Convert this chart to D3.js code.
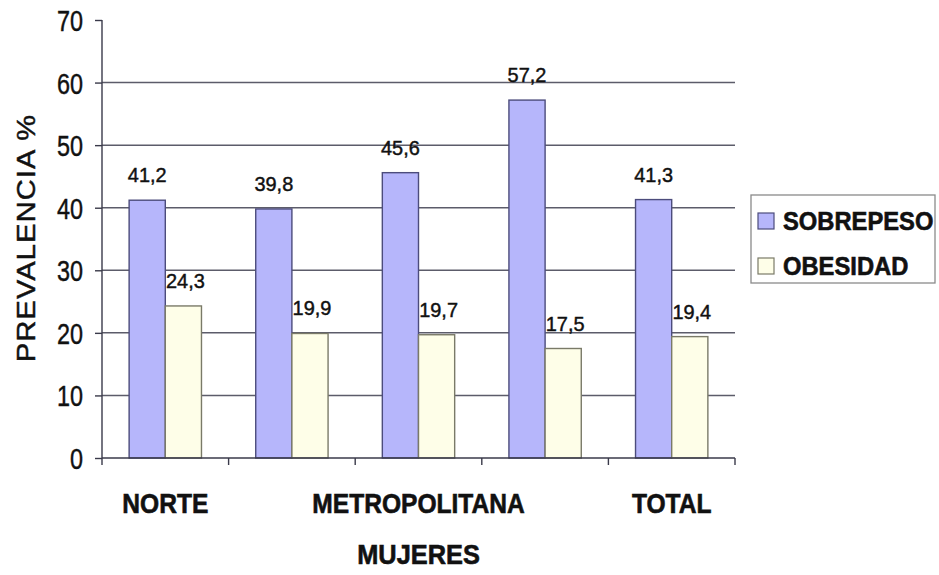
<!DOCTYPE html>
<html>
<head>
<meta charset="utf-8">
<script src="https://cdn.jsdelivr.net/npm/d3@7/dist/d3.min.js"></script>
<style>
  html, body { margin: 0; padding: 0; background: #fff; }
  svg { display: block; font-family: "Liberation Sans", Arial, sans-serif; }
  text { fill: #111; stroke: #111; stroke-width: 0.45; }
  text.bold { stroke-width: 0.6; }
</style>
</head>
<body>
<svg id="chart" width="939" height="575"></svg>
<script>
// Prevalencia de sobrepeso y obesidad en mujeres, por zona
const categoryLabels = ["NORTE", "", "METROPOLITANA", "", "TOTAL"];
const seriesNames = ["SOBREPESO", "OBESIDAD"];
const sobrepeso = [41.2, 39.8, 45.6, 57.2, 41.3];
const obesidad = [24.3, 19.9, 19.7, 17.5, 19.4];
const yTicks = [0, 10, 20, 30, 40, 50, 60, 70];

const values = [sobrepeso, obesidad];
const fills = ["#b6b6fb", "#fefee8"];
const strokes = ["#4c4c7c", "#7a7a68"];

const svg = d3.select("#chart");
const plotLeft = 102, plotRight = 735, plotTop = 20, plotBottom = 458;

const x0 = d3.scaleBand().domain(d3.range(categoryLabels.length)).range([plotLeft, plotRight]);
const x1 = d3.scaleBand().domain(d3.range(seriesNames.length))
  .range([0, x0.bandwidth()]).paddingOuter(0.75);
const y = d3.scaleLinear().domain([0, 70]).range([plotBottom, plotTop]);

// horizontal stretch helper for text
function squeeze(sel, x, yy, sx, rot) {
  sel.attr("x", 0).attr("y", 0)
     .attr("transform", `translate(${x},${yy}) rotate(${rot || 0}) scale(${sx},1)`);
}

// gridlines
svg.append("g").selectAll("line")
  .data(yTicks.filter(t => t > 0 && t < 70))
  .join("line")
  .attr("x1", plotLeft).attr("x2", plotRight)
  .attr("y1", d => y(d)).attr("y2", d => y(d))
  .attr("stroke", "#5c5c6a").attr("stroke-width", 1.5);

// bars
const groups = svg.append("g").selectAll("g")
  .data(d3.range(categoryLabels.length))
  .join("g")
  .attr("transform", i => `translate(${x0(i)},0)`);

seriesNames.forEach((name, s) => {
  groups.append("rect")
    .attr("x", x1(s))
    .attr("width", x1.bandwidth())
    .attr("y", i => y(values[s][i]))
    .attr("height", i => y(0) - y(values[s][i]))
    .attr("fill", fills[s])
    .attr("stroke", strokes[s])
    .attr("stroke-width", 1.4);

  groups.append("text")
    .text(i => values[s][i].toFixed(1).replace(".", ","))
    .attr("font-size", 21)
    .attr("text-anchor", "middle")
    .each(function (i) {
      squeeze(d3.select(this), x1(s) + x1.bandwidth() / 2 + (s ? 2 : 0), y(values[s][i]) - 18, 0.95);
    });
});

// y axis
const yAxis = svg.append("g").attr("transform", `translate(${plotLeft},0)`)
  .call(d3.axisLeft(y).tickValues(yTicks).tickSize(7).tickPadding(0).tickFormat(""));
yAxis.select(".domain").attr("stroke", "#3a3a4a").attr("stroke-width", 1.4).attr("d", `M0,${plotTop}V${plotBottom}`);
yAxis.selectAll(".tick line").attr("stroke", "#3a3a4a").attr("stroke-width", 1.4);

svg.append("g").selectAll("text")
  .data(yTicks)
  .join("text")
  .text(d => d)
  .attr("font-size", 30)
  .attr("text-anchor", "end")
  .each(function (d) { squeeze(d3.select(this), 83, y(d) + 11, 0.78); });

// x axis with boundary ticks
const xAxis = svg.append("g");
xAxis.append("line")
  .attr("x1", plotLeft).attr("x2", plotRight).attr("y1", plotBottom).attr("y2", plotBottom)
  .attr("stroke", "#3a3a4a").attr("stroke-width", 1.4);
xAxis.selectAll("line.tk")
  .data(d3.range(categoryLabels.length + 1))
  .join("line").attr("class", "tk")
  .attr("x1", i => i < categoryLabels.length ? x0(i) : plotRight)
  .attr("x2", i => i < categoryLabels.length ? x0(i) : plotRight)
  .attr("y1", plotBottom).attr("y2", plotBottom + 7)
  .attr("stroke", "#3a3a4a").attr("stroke-width", 1.4);

svg.append("g").selectAll("text")
  .data(d3.range(categoryLabels.length))
  .join("text")
  .attr("class", "bold")
  .text(i => categoryLabels[i])
  .attr("font-size", 27)
  .attr("font-weight", "bold")
  .attr("text-anchor", "middle")
  .each(function (i) { squeeze(d3.select(this), x0(i) + x0.bandwidth() / 2, 513, 0.91); });

// axis titles
svg.append("text").text("MUJERES").attr("class", "bold")
  .attr("font-size", 27).attr("font-weight", "bold").attr("text-anchor", "middle")
  .call(squeeze, (plotLeft + plotRight) / 2, 564, 0.94);

svg.append("text").text("PREVALENCIA %")
  .attr("font-size", 25).attr("text-anchor", "middle").attr("letter-spacing", 1)
  .call(squeeze, 35, 238, 1.16, -90);

// legend
const legend = svg.append("g");
legend.append("rect")
  .attr("x", 751).attr("y", 195).attr("width", 184).attr("height", 88)
  .attr("fill", "#fff").attr("stroke", "#8a8a8a").attr("stroke-width", 1.3);
seriesNames.forEach((name, s) => {
  const cy = 221 + s * 45;
  legend.append("rect")
    .attr("x", 758).attr("y", cy - 8).attr("width", 16).attr("height", 16)
    .attr("fill", fills[s]).attr("stroke", strokes[s]).attr("stroke-width", 1.2);
  legend.append("text").text(name).attr("class", "bold")
    .attr("font-size", 25).attr("font-weight", "bold")
    .call(squeeze, 783, cy + 9, 0.95);
});
</script>
</body>
</html>
